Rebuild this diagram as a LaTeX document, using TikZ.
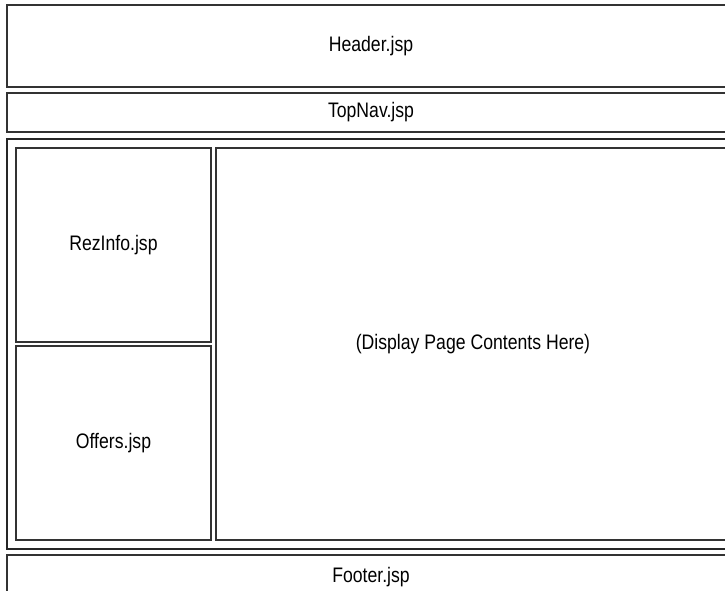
\documentclass[tikz,border=0pt]{standalone}
\usepackage{fontspec}
\setmainfont{Liberation Sans}[FakeStretch=0.84]
\begin{document}
\begin{tikzpicture}[x=1pt,y=-1pt,
  pane/.style={draw=black!80, line width=1.1pt, anchor=north west,
    inner sep=0pt, outer sep=0pt, font=\fontsize{21}{24}\selectfont},
  frame/.style={draw=black!85, line width=2pt, anchor=north west, inner sep=0pt, outer sep=0pt}]
  \useasboundingbox (0,0) rectangle (725,591);
  \clip (0,0) rectangle (725,591);
  % page regions of the JSP template
  \node[pane, minimum width=728pt, minimum height=82pt] (header) at (7,5) {Header.jsp};
  \node[pane, minimum width=728pt, minimum height=39pt] (topnav) at (7,93) {TopNav.jsp};
  \node[frame, minimum width=728pt, minimum height=410pt] (body) at (7,139) {};
  \node[pane, minimum width=195pt, minimum height=194pt] (rez) at (16,148) {RezInfo.jsp};
  \node[pane, minimum width=195pt, minimum height=194pt] (offers) at (16,346) {Offers.jsp};
  \node[pane, minimum width=514pt, minimum height=392pt] (display) at (216,148) {(Display Page Contents Here)};
  \node[pane, minimum width=728pt, minimum height=45pt] (footer) at (7,555) {Footer.jsp};
\end{tikzpicture}
\end{document}
